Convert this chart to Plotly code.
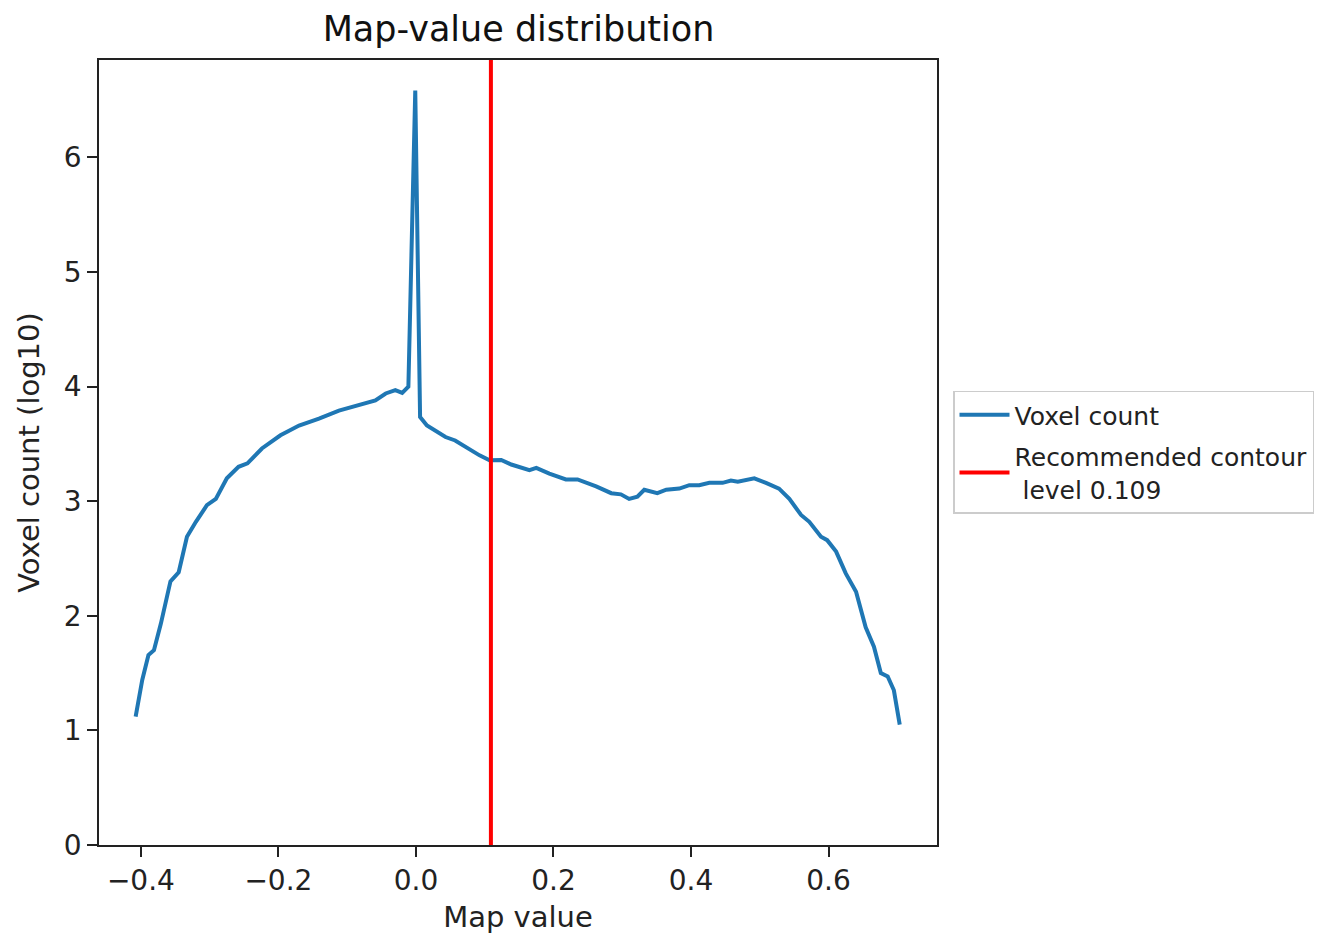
import plotly.graph_objects as go

# Data
map_value = [-0.4076, -0.398, -0.389, -0.381, -0.371, -0.357, -0.345, -0.333, -0.320, -0.304,
             -0.291, -0.275, -0.258, -0.245, -0.224, -0.197, -0.170, -0.141, -0.112, -0.078,
             -0.059, -0.044, -0.030, -0.020, -0.011, -0.001, 0.006, 0.016, 0.043, 0.057,
             0.086, 0.0925, 0.107, 0.124, 0.1386, 0.165, 0.175, 0.194, 0.218, 0.235,
             0.262, 0.284, 0.298, 0.310, 0.322, 0.332, 0.351, 0.364, 0.383, 0.3975,
             0.412, 0.4266, 0.446, 0.458, 0.468, 0.492, 0.509, 0.528, 0.543, 0.560,
             0.572, 0.589, 0.598, 0.611, 0.625, 0.640, 0.654, 0.666, 0.676, 0.686,
             0.695, 0.7035]
voxel_log10 = [1.12, 1.44, 1.657, 1.70, 1.93, 2.30, 2.38, 2.69, 2.82, 2.965,
               3.02, 3.20, 3.30, 3.33, 3.46, 3.575, 3.66, 3.72, 3.79, 3.846,
               3.88, 3.94, 3.97, 3.945, 4.00, 6.584, 3.735, 3.66, 3.56, 3.53,
               3.416, 3.40, 3.357, 3.36, 3.32, 3.27, 3.29, 3.24, 3.19, 3.19,
               3.13, 3.07, 3.06, 3.02, 3.04, 3.10, 3.07, 3.10, 3.11, 3.14,
               3.14, 3.16, 3.16, 3.18, 3.17, 3.20, 3.16, 3.11, 3.02, 2.88,
               2.82, 2.69, 2.66, 2.56, 2.37, 2.21, 1.90, 1.73, 1.50, 1.47,
               1.35, 1.05]
contour_level = 0.109
x_range = [-0.4609, 0.7577]
y_range = [0, 6.85]
x_ticks = [-0.4, -0.2, 0.0, 0.2, 0.4, 0.6]
x_tick_text = ["\u22120.4", "\u22120.2", "0.0", "0.2", "0.4", "0.6"]
y_ticks = [0, 1, 2, 3, 4, 5, 6]

FONT = "DejaVu Sans"
W, H = 1317, 926  # page has an 8px body margin

fig = go.Figure()
fig.add_trace(go.Scatter(
    x=map_value, y=voxel_log10, mode="lines", name="Voxel count", legendgroup="a",
    line=dict(color="#1f77b4", width=4),
))
fig.add_trace(go.Scatter(
    x=[contour_level, contour_level], y=y_range, mode="lines", legendgroup="b",
    name="Recommended contour<br> level 0.109",
    line=dict(color="#ff0000", width=4),
))

axis_common = dict(
    showgrid=False, zeroline=False, showline=True, linecolor="#222222", linewidth=1.5,
    mirror=True, ticks="outside", ticklen=10, tickwidth=1.5, tickcolor="#222222",
    tickfont=dict(family=FONT, size=28, color="#222222"), automargin=False,
)

fig.update_layout(
    width=W, height=H,
    margin=dict(l=91, r=W - 91 - 839, t=52, b=H - 52 - 785),
    paper_bgcolor="white", plot_bgcolor="white",
    font=dict(family=FONT, color="#222222"),
    title=dict(text="Map-value distribution", x=(518.5 - 8) / W, xanchor="center",
               y=1 - 21 / H, yanchor="middle", yref="container",
               font=dict(family=FONT, size=35, color="#111111")),
    xaxis=dict(range=x_range, tickvals=x_ticks, ticktext=x_tick_text,
               title=dict(text="Map value", font=dict(family=FONT, size=29), standoff=11),
               **axis_common),
    yaxis=dict(range=y_range, tickvals=y_ticks,
               title=dict(text="Voxel count (log10)", font=dict(family=FONT, size=29), standoff=16),
               **axis_common),
    legend=dict(x=(953 - 99) / 839, xanchor="left", y=(845 - 452) / 785, yanchor="middle",
                bordercolor="#cccccc", borderwidth=1.5, bgcolor="white",
                font=dict(family=FONT, size=25, color="#222222"),
                tracegroupgap=6, itemwidth=50),
    showlegend=True,
)

fig.write_html("out.html")
